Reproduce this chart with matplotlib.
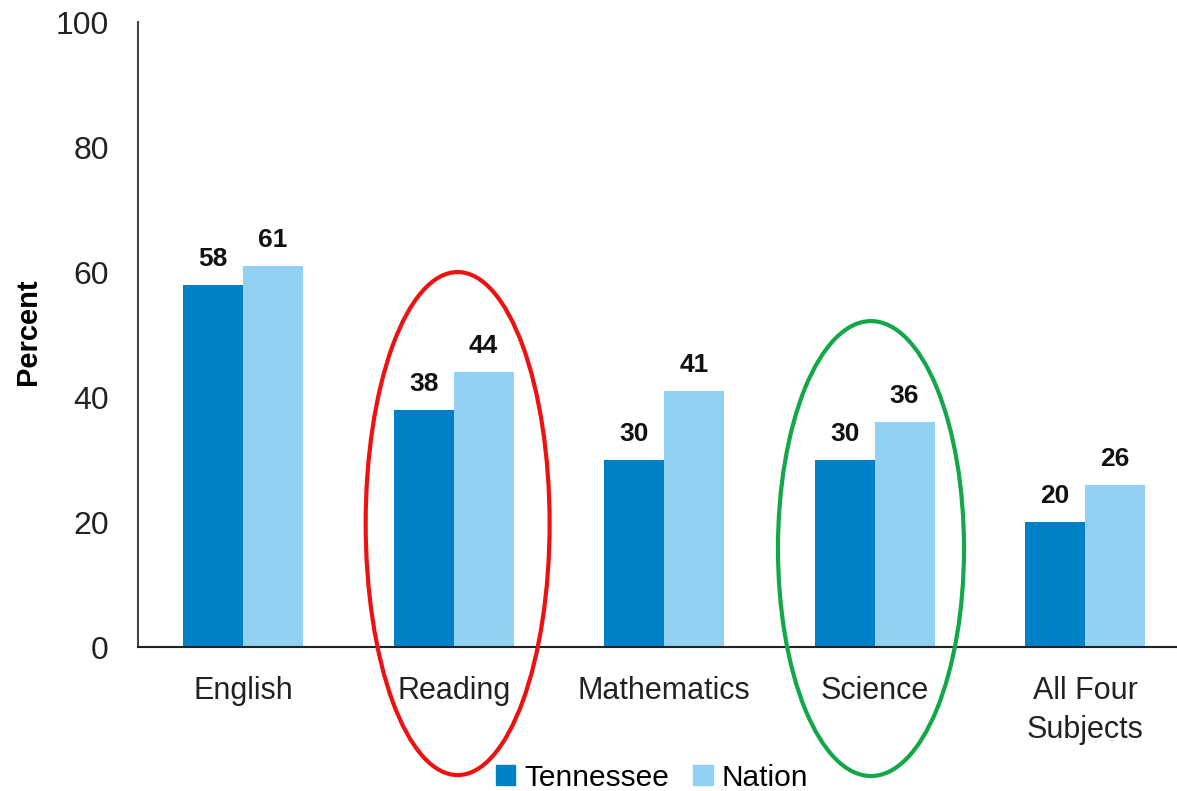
import numpy as np
import matplotlib.pyplot as plt
from matplotlib.patches import Ellipse, Patch

plt.rcParams['font.family'] = ['Liberation Sans', 'DejaVu Sans']

# Datos del gráfico
materias = ['English', 'Reading', 'Mathematics', 'Science', 'All Four\nSubjects']
tennessee = [58, 38, 30, 30, 20]
nation = [61, 44, 41, 36, 26]

col_tn = '#0081C6'
col_nat = '#92D1F2'

fig = plt.figure(figsize=(11.77, 7.91), dpi=100)
ax = fig.add_axes([0.1172, 0.182, 0.8828, 0.790])

x = np.arange(len(materias))
w = 0.285
b1 = ax.bar(x - w/2, tennessee, w, color=col_tn, label='Tennessee')
b2 = ax.bar(x + w/2, nation, w, color=col_nat, label='Nation')

# etiquetas de valores
for barras in (b1, b2):
    for b in barras:
        ax.annotate(f'{int(b.get_height())}', (b.get_x() + b.get_width()/2, b.get_height()),
                    xytext=(0, 10), textcoords='offset points', ha='center', va='bottom',
                    fontsize=19, fontweight='bold', color='#111111')

ax.set_xlim(-0.5, 4.437)
ax.set_ylim(0, 100)
ax.set_yticks([0, 20, 40, 60, 80, 100])
ax.tick_params(axis='y', length=0, pad=21, labelsize=23, labelcolor='#222222')
ax.tick_params(axis='x', length=0, pad=21, labelsize=22, labelcolor='#222222')
ax.set_xticks(x)
ax.set_xticklabels(materias, linespacing=1.4)
for lbl in ax.get_xticklabels():
    lbl.set_va('top')

ax.spines['top'].set_visible(False)
ax.spines['right'].set_visible(False)
ax.spines['left'].set_color('#444444')
ax.spines['bottom'].set_color('#222222')
ax.spines['left'].set_linewidth(1.5)
ax.spines['bottom'].set_linewidth(1.5)

fig.text(0.024, 0.581, 'Percent', rotation=90, fontsize=21, fontweight='bold',
         ha='center', va='center')

# elipses resaltando Reading y Science
ax.add_patch(Ellipse((1.019, 19.76), 0.874, 80.5, fill=False, edgecolor='#EE1111',
                     linewidth=3, clip_on=False, zorder=5))
ax.add_patch(Ellipse((2.983, 15.76), 0.884, 72.8, fill=False, edgecolor='#12A84A',
                     linewidth=3, clip_on=False, zorder=5))

handles = [Patch(color=col_tn, label='Tennessee'), Patch(color=col_nat, label='Nation')]
fig.legend(handles=handles, loc='center', bbox_to_anchor=(0.554, 0.017), ncol=2,
           frameon=False, fontsize=21.5, handlelength=0.65, handleheight=0.65,
           handletextpad=0.3, columnspacing=0.8, borderpad=0)

fig.savefig('out.png', dpi=100)
